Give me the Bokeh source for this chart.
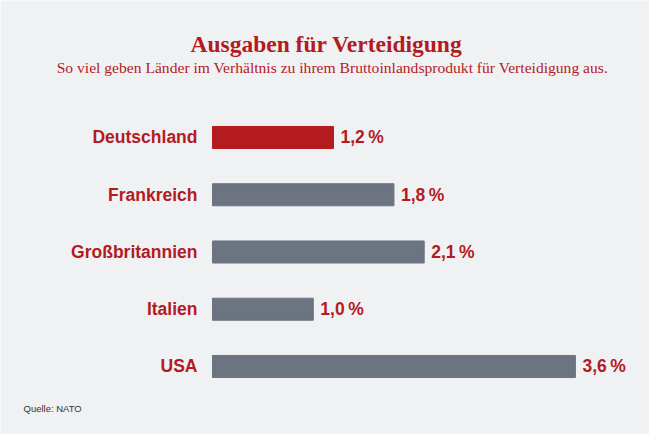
from bokeh.plotting import figure
from bokeh.models import Range1d, Label, ColumnDataSource
from bokeh.core.properties import value
from bokeh.embed import file_html
from bokeh.resources import INLINE

countries = ["Deutschland", "Frankreich", "Großbritannien", "Italien", "USA"]
shares = [1.2, 1.8, 2.1, 1.0, 3.6]
bar_colors = ["#b31b1e", "#6b7480", "#6b7480", "#6b7480", "#6b7480"]
value_labels = ["1,2\u202f%", "1,8\u202f%", "2,1\u202f%", "1,0\u202f%", "3,6\u202f%"]
title_text = "Ausgaben für Verteidigung"
subtitle_text = "So viel geben Länder im Verhältnis zu ihrem Bruttoinlandsprodukt für Verteidigung aus."
source_text = "Quelle: NATO"

RED = "#b31b1e"
BG = "#f0f1f3"

n = len(countries)
ypos = [n - 1 - i for i in range(n)]

src = ColumnDataSource(dict(country=countries, share=shares, color=bar_colors,
                            label=value_labels, y=ypos, zero=[0] * n))

W, H = 649, 434
p = figure(width=W, height=H, output_backend="svg", toolbar_location=None,
           x_range=Range1d(-2.103, 4.335), y_range=Range1d(-1.188, 6.393),
           min_border=0, background_fill_color=BG, border_fill_color=BG,
           outline_line_color=None)
p.axis.visible = False
p.grid.visible = False

p.hbar(y="y", left=0, right="share", height=0.385, color="color", source=src)

p.text(x="zero", y="y", text="country", source=src, x_offset=-15,
       text_align="right", text_baseline="middle", text_color=RED,
       text_font=value("Liberation Sans"), text_font_style="bold",
       text_font_size="17.5px")

p.text(x="share", y="y", text="label", source=src, x_offset=7,
       text_align="left", text_baseline="middle", text_color=RED,
       text_font=value("Liberation Sans"), text_font_style="bold",
       text_font_size="17.5px")

p.add_layout(Label(x=326, y=H - 43, x_units="screen", y_units="screen",
                   text=title_text, text_align="center", text_baseline="middle",
                   text_color=RED, text_font="Liberation Serif",
                   text_font_style="bold", text_font_size="23.5px"))
p.add_layout(Label(x=332, y=H - 67, x_units="screen", y_units="screen",
                   text=subtitle_text, text_align="center", text_baseline="middle",
                   text_color=RED, text_font="Liberation Serif",
                   text_font_size="15.6px"))
p.add_layout(Label(x=23, y=H - 408, x_units="screen", y_units="screen",
                   text=source_text, text_align="left", text_baseline="middle",
                   text_color="#333333", text_font="Liberation Sans",
                   text_font_size="9.5px"))

open("out.html", "w").write(file_html(p, INLINE))
